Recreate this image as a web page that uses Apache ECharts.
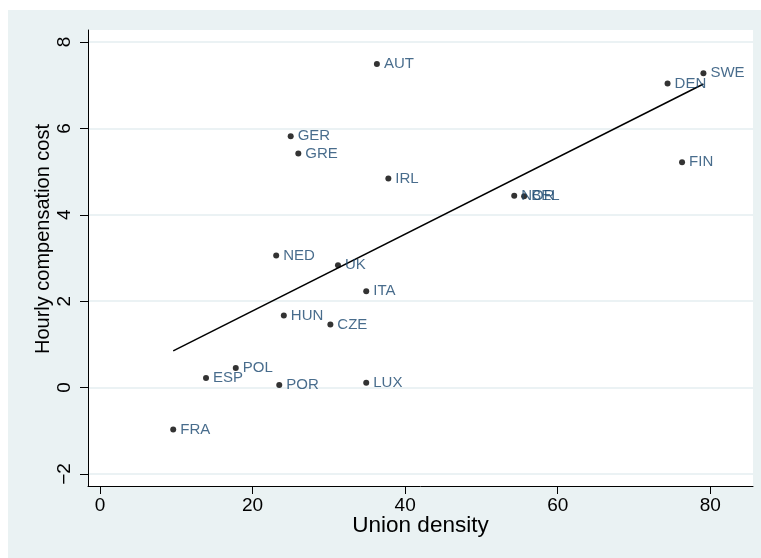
<!DOCTYPE html>
<html>
<head>
<meta charset="utf-8">
<script src="https://cdn.jsdelivr.net/npm/echarts@6.0.0/dist/echarts.min.js"></script>
<style>
  html, body { margin: 0; padding: 0; background: #fff; }
  #wrap { position: relative; width: 761px; height: 558px; }
  #bg { position: absolute; left: 8px; top: 10px; width: 753px; height: 548px; background: #EAF2F3; }
  #chart { position: absolute; left: 0; top: 0; width: 761px; height: 558px; }
</style>
</head>
<body>
<div id="wrap">
  <div id="bg"></div>
  <div id="chart"></div>
</div>
<script>
// countries, union density (x) and hourly compensation cost (y)
const countries = ['AUT', 'SWE', 'DEN', 'GER', 'GRE', 'IRL', 'FIN', 'NOR', 'BEL', 'NED', 'UK', 'ITA', 'HUN', 'CZE', 'POL', 'ESP', 'POR', 'LUX', 'FRA']
const unionDensity = [36.3, 79.1, 74.4, 25.0, 26.0, 37.8, 76.3, 54.3, 55.6, 23.1, 31.2, 34.9, 24.1, 30.2, 17.8, 13.9, 23.5, 34.9, 9.6]
const compCost = [7.49, 7.28, 7.04, 5.82, 5.42, 4.84, 5.22, 4.44, 4.43, 3.06, 2.83, 2.23, 1.67, 1.46, 0.45, 0.22, 0.06, 0.11, -0.97]

// fitted line end points
const fitX = [9.6, 79.1]
const fitY = [0.85, 7.03]

const xTicks = [0, 20, 40, 60, 80]
const yTicks = [-2, 0, 2, 4, 6, 8]

const font = 'Liberation Sans, Arial, sans-serif'

const points = countries.map((c, i) => [unionDensity[i], compCost[i], c])
const minus = v => String(v).replace('-', '\u2212')

const chart = echarts.init(document.getElementById('chart'), null, { renderer: 'canvas' })
chart.setOption({
  animation: false,
  backgroundColor: 'transparent',
  textStyle: { fontFamily: font },
  grid: {
    left: 88,
    right: 8,
    top: 30,
    bottom: 72,
    show: true,
    backgroundColor: '#ffffff',
    borderWidth: 0
  },
  xAxis: {
    type: 'value',
    min: -1.57,
    max: 85.6,
    name: 'Union density',
    nameLocation: 'middle',
    nameGap: 28,
    nameMoveOverlap: false,
    nameTextStyle: { fontSize: 22.5, color: '#000', fontFamily: font },
    axisLine: { show: true, onZero: false, lineStyle: { color: '#000', width: 1 } },
    axisTick: { show: true, length: 8, customValues: xTicks, lineStyle: { color: '#000' } },
    axisLabel: { customValues: xTicks, fontSize: 19, color: '#000', margin: 10, fontFamily: font },
    splitLine: { show: false }
  },
  yAxis: {
    type: 'value',
    min: -2.28,
    max: 8.28,
    name: 'Hourly compensation cost',
    nameLocation: 'middle',
    nameGap: 35,
    nameMoveOverlap: false,
    nameTextStyle: { fontSize: 20, color: '#000', fontFamily: font, padding: [0, 0, 0, 38] },
    axisLine: { show: true, onZero: false, lineStyle: { color: '#000', width: 1 } },
    axisTick: { show: true, length: 8, customValues: yTicks, lineStyle: { color: '#000' } },
    axisLabel: { customValues: yTicks, fontSize: 19, color: '#000', margin: 14, rotate: 90, fontFamily: font, formatter: minus },
    splitLine: { show: false }
  },
  series: [
    {
      // horizontal grid lines
      type: 'line',
      data: [],
      silent: true,
      z: 0,
      markLine: {
        silent: true,
        z: 0,
        symbol: 'none',
        label: { show: false },
        lineStyle: { color: '#E4EEF0', width: 1.5, type: 'solid' },
        data: yTicks.map(v => ({ yAxis: v }))
      }
    },
    {
      type: 'line',
      data: fitX.map((x, i) => [x, fitY[i]]),
      symbol: 'none',
      z: 2,
      lineStyle: { color: '#000', width: 1.5 }
    },
    {
      type: 'scatter',
      data: points,
      symbolSize: 6,
      z: 3,
      itemStyle: { color: '#000' },
      label: {
        show: true,
        position: 'right',
        distance: 4,
        formatter: p => p.data[2],
        color: '#1A476F',
        fontSize: 15,
        fontFamily: font
      }
    }
  ]
})
</script>
</body>
</html>
